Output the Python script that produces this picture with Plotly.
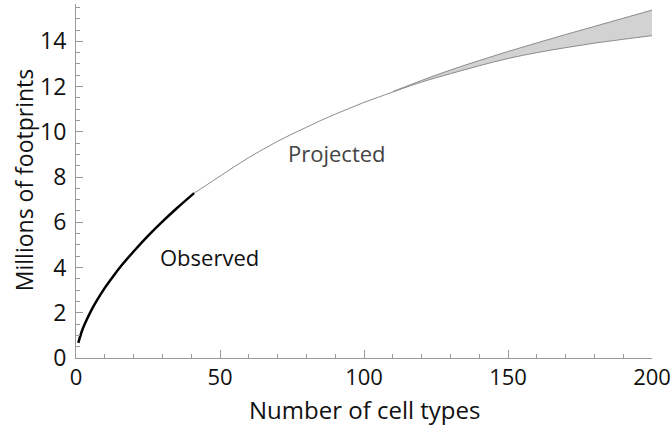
import plotly.graph_objects as go

# Observed curve
obs_x = [0.8, 2, 3, 5, 7, 10, 13, 16, 20, 25, 30, 35, 41]
obs_y = [0.67, 1.17, 1.49, 2.03, 2.49, 3.10, 3.63, 4.12, 4.71, 5.40, 6.03, 6.62, 7.29]

# Projected curve (single line before the band opens)
proj_x = [41, 45, 50, 55, 60, 65, 70, 75, 80, 85, 90, 95, 100, 105, 110]
proj_y = [7.29, 7.62, 8.04, 8.46, 8.86, 9.23, 9.58, 9.90, 10.20, 10.50, 10.78, 11.04, 11.30, 11.53, 11.76]

# Projected uncertainty band
band_x = [110, 120, 130, 140, 150, 160, 170, 180, 190, 200]
band_lo = [11.76, 12.20, 12.57, 12.92, 13.24, 13.50, 13.72, 13.92, 14.09, 14.25]
band_hi = [11.78, 12.27, 12.73, 13.15, 13.55, 13.93, 14.30, 14.66, 15.02, 15.38]

x_ticks = [0, 50, 100, 150, 200]
y_ticks = [0, 2, 4, 6, 8, 10, 12, 14]

x_title = "Number of cell types"
y_title = "Millions of footprints"

FONT = "Open Sans"

fig = go.Figure()
fig.add_trace(go.Scatter(x=band_x, y=band_lo, mode="lines",
                         line=dict(color="#8c8c8c", width=1, shape="spline"),
                         showlegend=False, hoverinfo="skip"))
fig.add_trace(go.Scatter(x=band_x, y=band_hi, mode="lines", fill="tonexty",
                         fillcolor="#d2d2d2",
                         line=dict(color="#8c8c8c", width=1, shape="spline"),
                         showlegend=False, hoverinfo="skip"))
fig.add_trace(go.Scatter(x=proj_x, y=proj_y, mode="lines",
                         line=dict(color="#8c8c8c", width=1, shape="spline"), showlegend=False))
fig.add_trace(go.Scatter(x=obs_x, y=obs_y, mode="lines",
                         line=dict(color="#000000", width=2.5, shape="spline"), showlegend=False))

fig.add_annotation(x=46.2, y=4.47, text="Observed", showarrow=False,
                   font=dict(family=FONT, size=22, color="#111111"))
fig.add_annotation(x=90.6, y=9.05, text="Projected", showarrow=False,
                   font=dict(family=FONT, size=22, color="#444444"))

# axis titles as annotations for precise placement
fig.add_annotation(xref="paper", yref="paper", x=0.5, y=-0.145, xanchor="center", yanchor="middle",
                   text=x_title, showarrow=False,
                   font=dict(family=FONT, size=24, color="#111111"))
fig.add_annotation(xref="paper", yref="paper", x=-0.0903, y=0.505, xanchor="center", yanchor="middle",
                   text=y_title, textangle=-90, showarrow=False,
                   font=dict(family=FONT, size=23, color="#111111"))

axis_common = dict(showline=True, linecolor="#9a9a9a", linewidth=1, showgrid=False,
                   zeroline=False, ticks="inside", tickcolor="#9a9a9a", tickwidth=1,
                   automargin=False, ticklabeloverflow="allow")

fig.update_xaxes(range=[0, 200], tickvals=x_ticks, ticklen=8,
                 tickfont=dict(family=FONT, size=22, color="#111111"),
                 minor=dict(ticks="inside", dtick=10, ticklen=4, tickcolor="#9a9a9a", showgrid=False),
                 **axis_common)
fig.update_yaxes(range=[0, 15.65], tickvals=y_ticks, ticklen=7,
                 tickfont=dict(family=FONT, size=23, color="#111111"),
                 minor=dict(ticks="inside", dtick=0.5, ticklen=4, tickcolor="#9a9a9a", showgrid=False),
                 ticklabelstandoff=4,
                 **axis_common)

fig.update_layout(width=670, height=437, plot_bgcolor="white", paper_bgcolor="white",
                  margin=dict(l=76, r=18, t=4, b=79), showlegend=False)

fig.write_html("out.html", config={"displayModeBar": False},
               post_script="document.body.style.margin='0';document.body.style.padding='0';")
